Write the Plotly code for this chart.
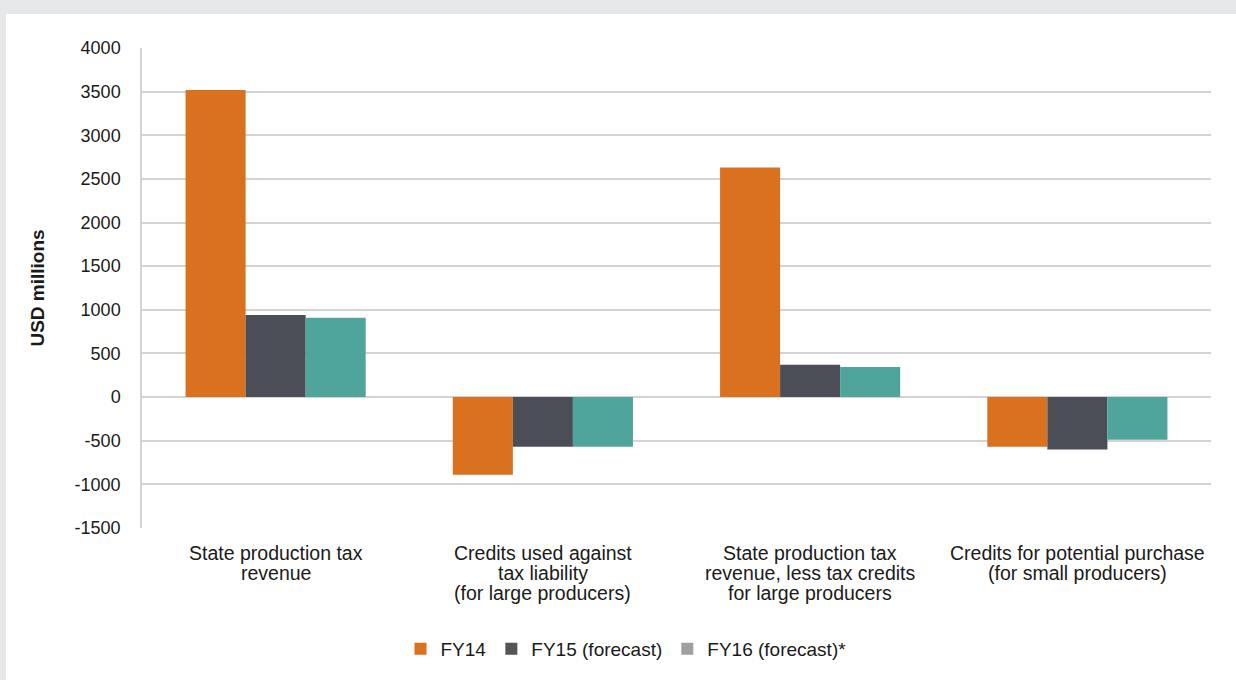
import plotly.graph_objects as go

categories = [
    "State production tax<br>revenue",
    "Credits used against<br>tax liability<br>(for large producers)",
    "State production tax<br>revenue, less tax credits<br>for large producers",
    "Credits for potential purchase<br>(for small producers)",
]
series_names = ["FY14", "FY15 (forecast)", "FY16 (forecast)*"]
fy14 = [3520, -890, 2630, -570]
fy15 = [940, -570, 370, -600]
fy16 = [910, -570, 345, -490]
bar_colors = ["#d9711f", "#4b4d57", "#4fa49b"]
legend_colors = ["#d9711f", "#555555", "#a0a0a0"]
tick_vals = [-1500, -1000, -500, 0, 500, 1000, 1500, 2000, 2500, 3000, 3500, 4000]
tick_text = ["-1500", "-1000", "-500", "0", "500", "1000", "1500", "2000", "2500", "3000", "3500", "4000"]

W, H = 1236, 680
L, R, T, B = 142, 25, 48, 152
pw, ph = W - L - R, H - T - B

def px_to_paper_x(px):
    return (px - L) / pw

def py_to_paper_y(py):
    return (H - B - py) / ph

font_family = "Liberation Sans, Arial, sans-serif"
text_color = "#1a1a1a"

fig = go.Figure()
for name, vals, c, lc in zip(series_names, [fy14, fy15, fy16], bar_colors, legend_colors):
    fig.add_trace(go.Bar(x=categories, y=vals, name=name, marker_color=c,
                         marker_line_width=0, showlegend=False, legendgroup=name,
                         offsetgroup=name))
    fig.add_trace(go.Bar(x=[None], y=[None], name=name, marker_color=lc,
                         marker_line_width=0, showlegend=True, legendgroup=name,
                         offsetgroup=name))

# category labels, one annotation per line for tight line spacing
for cat in categories:
    for i, line in enumerate(cat.split("<br>")):
        fig.add_annotation(x=cat, xref="x", y=py_to_paper_y(553 + 20 * i), yref="paper",
                           text=line, showarrow=False, xanchor="center", yanchor="middle",
                           font=dict(size=19.5, family=font_family, color=text_color))

fig.add_shape(type="rect", xref="paper", yref="paper",
              x0=px_to_paper_x(6), x1=px_to_paper_x(W + 5),
              y0=py_to_paper_y(H + 5), y1=py_to_paper_y(14),
              fillcolor="white", line_width=0, layer="below")

fig.update_layout(
    width=W, height=H,
    margin=dict(l=L, r=R, t=T, b=B, autoexpand=False),
    paper_bgcolor="#e6e7e8",
    plot_bgcolor="rgba(0,0,0,0)",
    barmode="group", bargap=0.326, bargroupgap=0,
    font=dict(family=font_family, color=text_color),
    showlegend=True,
    legend=dict(orientation="h", x=px_to_paper_x(626), xanchor="center", y=py_to_paper_y(649), yanchor="middle",
                font=dict(size=19, family=font_family, color=text_color),
                itemwidth=30, traceorder="normal", bgcolor="rgba(0,0,0,0)"),
    xaxis=dict(showgrid=False, showline=False, ticks="", showticklabels=False,
               zeroline=False),
    yaxis=dict(range=[-1500, 4000], tickvals=tick_vals, ticktext=tick_text,
               showgrid=True, gridcolor="#d3d3d3", gridwidth=1.5,
               zeroline=True, zerolinecolor="#d3d3d3", zerolinewidth=1.5,
               showline=True, linecolor="#d3d3d3", linewidth=1.5,
               ticks="outside", ticklen=16, tickcolor="rgba(0,0,0,0)",
               tickfont=dict(size=18),
               title=dict(text="<b>USD millions</b>", font=dict(size=19), standoff=25)),
)
fig.write_html("out.html", post_script="document.body.style.margin='0px';",
               config={"displayModeBar": False})
